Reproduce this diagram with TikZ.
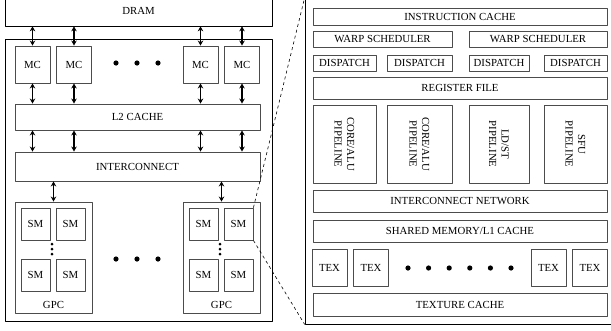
\documentclass[tikz,border=0pt]{standalone}
\usepackage{fontspec}
\setmainfont{Liberation Serif}
\usetikzlibrary{arrows.meta}
\begin{document}
\begin{tikzpicture}[x=1pt,y=-1pt,font=\fontsize{10.8}{12.5}\selectfont,line join=round,>={Stealth[length=5pt,width=5.5pt]},
  box/.style={draw=black!70,line width=0.9pt,inner sep=0pt,align=center},
  frame/.style={draw=black,line width=0.7pt,inner sep=0pt},
  io/.style={<->,line width=1.6pt},
  lnk/.style={dashed,line width=0.6pt}]
\useasboundingbox (0,0) rectangle (611,330);
\node[frame,minimum width=267pt,minimum height=30pt] (dram) at (138.5,11) {DRAM};
\node[frame,minimum width=267pt,minimum height=282pt] (chip) at (138.5,180) {};
\node[box,minimum width=245pt,minimum height=26pt] (l2) at (137.5,117) {L2 CACHE};
\node[box,minimum width=245pt,minimum height=29pt] (icn) at (137.5,166.5) {INTERCONNECT};
\foreach \n/\x in {1/32.5,2/74,3/200.5,4/242}{
  \node[box,minimum width=35pt,minimum height=37pt] (mc\n) at (\x,64.5) {MC};
  \draw[io] (mc\n.north) -- (mc\n.north |- dram.south);
  \draw[io] (mc\n.south) -- (mc\n.south |- l2.north);
  \draw[io] (mc\n.south |- l2.south) -- (mc\n.south |- icn.north);}
\foreach \x in {116,137,158}{\fill (\x,63) circle(2.6pt); \fill (\x,259) circle(2.6pt);}
\foreach \g/\x in {a/53.5,b/221.5}{
  \node[box,minimum width=77pt,minimum height=111pt] (gpc\g) at (\x,257.5) {};
  \node[above=1pt] (gl\g) at (gpc\g.south) {GPC};
  \draw[io] (gpc\g.north) -- (gpc\g.north |- icn.south);
  \foreach \r/\y in {1/224,2/275}
    \foreach \c/\d in {1/-18,2/17}
      \node[box,minimum width=29pt,minimum height=32pt] (sm\g\r\c) at (\x+\d,\y) {SM};
  \foreach \y in {244,249,254} \fill (\x-1.5,\y) circle(1.5pt);}
\node[frame,minimum width=320pt,minimum height=326pt] (smx) at (465,161) {};
\node[box,minimum width=294pt,minimum height=17pt] (icache) at (460,16.5) {INSTRUCTION CACHE};
\node[box,minimum width=139pt,minimum height=16pt] (ws1) at (382.5,39) {WARP SCHEDULER};
\node[box,minimum width=138pt,minimum height=16pt] (ws2) at (538,39) {WARP SCHEDULER};
\foreach \n/\x/\w in {1/344.5/63,2/419.5/65,3/499/60,4/575.5/63}
  \node[box,minimum width=\w pt,minimum height=16pt] (disp\n) at (\x,63) {DISPATCH};
\node[box,minimum width=294pt,minimum height=22pt] (regf) at (460,88) {REGISTER FILE};
\node[box,rotate=-90,minimum width=78pt,minimum height=63pt] (pipe1) at (344.5,144) {CORE/ALU\\PIPELINE};
\node[box,rotate=-90,minimum width=78pt,minimum height=65pt] (pipe2) at (419.5,144) {CORE/ALU\\PIPELINE};
\node[box,rotate=-90,minimum width=78pt,minimum height=60pt] (pipe3) at (499,144) {LD/ST\\PIPELINE};
\node[box,rotate=-90,minimum width=78pt,minimum height=63pt] (pipe4) at (575.5,144) {SFU\\PIPELINE};
\node[box,minimum width=294pt,minimum height=22pt] (icnet) at (460,201) {INTERCONNECT NETWORK};
\node[box,minimum width=294pt,minimum height=22pt] (smem) at (460,231) {SHARED MEMORY/L1 CACHE};
\foreach \n/\x in {1/329.5,2/371,3/548.5,4/590}
  \node[box,minimum width=35pt,minimum height=37pt] (tex\n) at (\x,267.5) {TEX};
\foreach \i in {0,...,5} \fill ({408+20.6*\i},268) circle(2.6pt);
\node[box,minimum width=294pt,minimum height=23pt] (tcache) at (460,304.5) {TEXTURE CACHE};
\draw[lnk] (smb12.north east) -- (smx.north west);
\draw[lnk] (smb12.south east) -- (smx.south west);
\end{tikzpicture}
\end{document}
